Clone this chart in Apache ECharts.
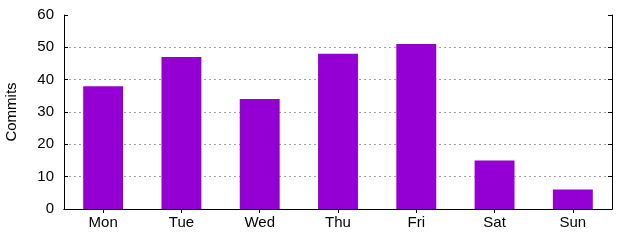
<!DOCTYPE html>
<html><head><meta charset="utf-8">
<script src="https://cdn.jsdelivr.net/npm/echarts@6/dist/echarts.min.js"></script>
<style>html,body{margin:0;padding:0;background:#fff}#c{width:640px;height:240px}</style>
</head><body><div id="c"></div>
<script>
const categories = ['Mon','Tue','Wed','Thu','Fri','Sat','Sun'];
const commits = [38, 47, 34, 48, 51, 15, 6];
const yTicks = [0, 10, 20, 30, 40, 50, 60];

const font = 'Liberation Sans, Arial, sans-serif';
const chart = echarts.init(document.getElementById('c'), null, {renderer: 'canvas'});
chart.setOption({
  animation: false,
  backgroundColor: '#fff',
  grid: {left: 64, right: 28, top: 15, bottom: 31, containLabel: false, outerBoundsMode: 'none'},
  xAxis: [{
    type: 'category', data: categories, position: 'bottom',
    axisLine: {show: true, lineStyle: {color: '#000', width: 1}},
    axisTick: {show: false},
    axisLabel: {color: '#000', fontFamily: font, fontSize: 15, margin: 6},
    splitLine: {show: false}
  }, {
    type: 'category', data: categories, position: 'top',
    axisLine: {show: true, lineStyle: {color: '#000', width: 1}},
    axisTick: {show: true, inside: true, alignWithLabel: true, length: 4, lineStyle: {color: '#000'}},
    axisLabel: {show: false}
  }],
  yAxis: [{
    type: 'value', min: yTicks[0], max: yTicks[yTicks.length-1], interval: 10,
    name: 'Commits', nameLocation: 'middle', nameGap: 45,
    nameTextStyle: {color: '#000', fontFamily: font, fontSize: 15},
    axisLine: {show: true, lineStyle: {color: '#000', width: 1}},
    axisTick: {show: true, inside: true, length: 4, lineStyle: {color: '#000'}},
    axisLabel: {color: '#000', fontFamily: font, fontSize: 15, margin: 10},
    splitLine: {show: true, showMinLine: false, showMaxLine: false, lineStyle: {color: '#a0a0a0', type: [2, 3], width: 1}}
  }, {
    type: 'value', min: yTicks[0], max: yTicks[yTicks.length-1], interval: 10, position: 'right',
    axisLine: {show: true, lineStyle: {color: '#000', width: 1}},
    axisTick: {show: true, inside: true, length: 4, lineStyle: {color: '#000'}},
    axisLabel: {show: false},
    splitLine: {show: false}
  }],
  series: [{
    type: 'bar', data: commits, xAxisIndex: 0, yAxisIndex: 0,
    barWidth: '51%',
    itemStyle: {color: '#9400d3'}
  }]
});
</script></body></html>
